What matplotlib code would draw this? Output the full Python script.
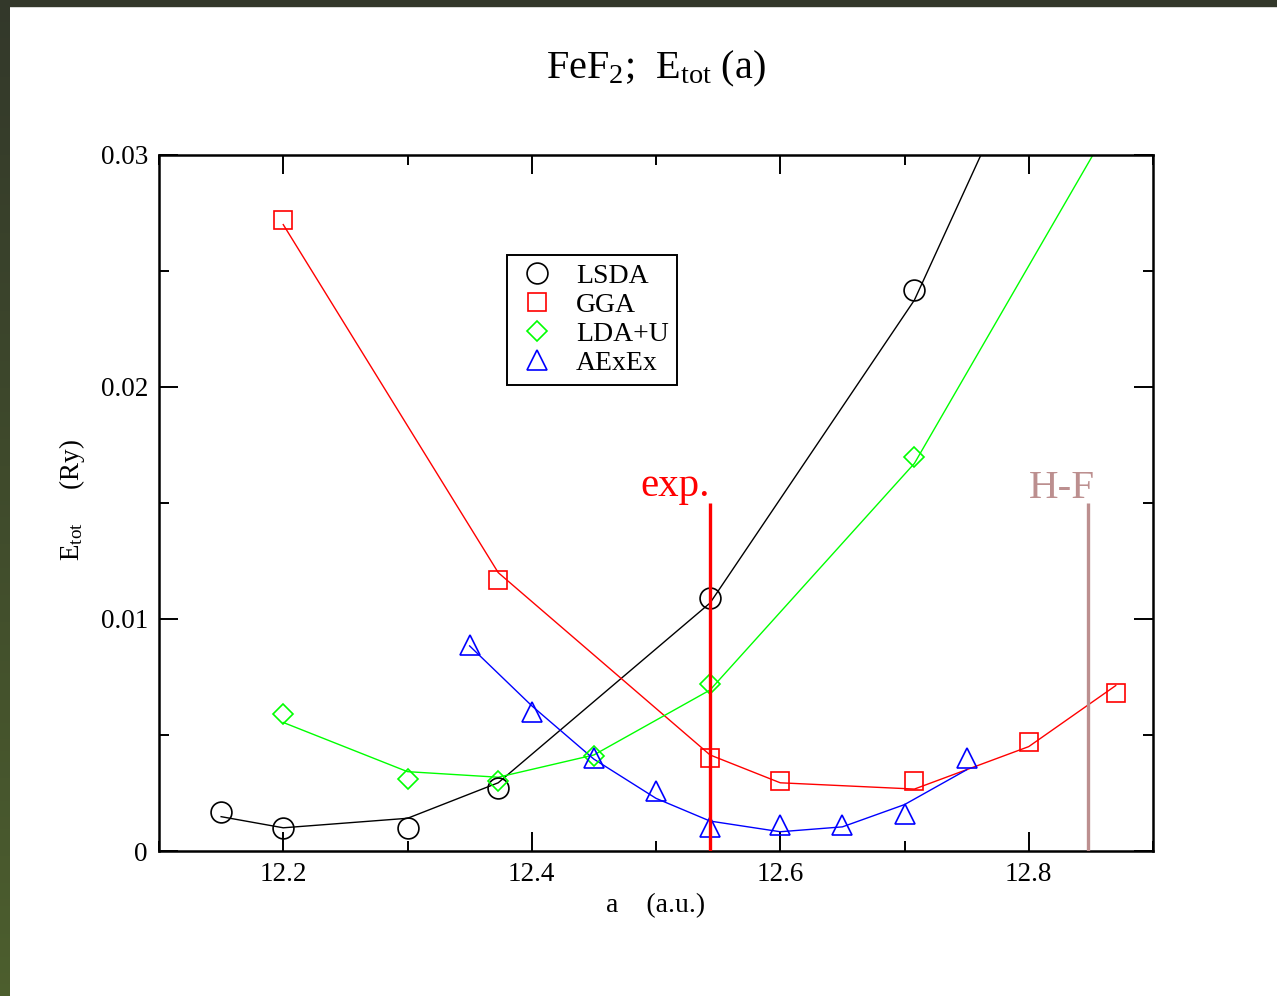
import matplotlib
matplotlib.use("Agg")
import matplotlib.pyplot as plt
import numpy as np

plt.rcParams['font.family'] = ['Liberation Serif', 'DejaVu Serif']
plt.rcParams['mathtext.fontset'] = 'custom'
plt.rcParams['mathtext.rm'] = 'Liberation Serif'
plt.rcParams['mathtext.it'] = 'Liberation Serif:italic'
plt.rcParams['mathtext.default'] = 'rm'

# data points (markers)
lsda_x = [12.15, 12.2, 12.3, 12.373, 12.5435, 12.708]
lsda_y = [0.00168, 0.00099, 0.00100, 0.0027, 0.0109, 0.0242]
gga_x = [12.2, 12.373, 12.5435, 12.6, 12.708, 12.8, 12.87]
gga_y = [0.0272, 0.0117, 0.0040, 0.0030, 0.0030, 0.0047, 0.0068]
ldau_x = [12.2, 12.3, 12.373, 12.45, 12.5435, 12.708]
ldau_y = [0.0059, 0.0031, 0.0030, 0.0041, 0.0072, 0.0170]
aexex_x = [12.35, 12.4, 12.45, 12.5, 12.5435, 12.6, 12.65, 12.7, 12.75]
aexex_y = [0.0089, 0.0060, 0.0040, 0.0026, 0.00105, 0.0011, 0.0011, 0.0016, 0.0040]

# fitted curves (lines)
lsda_fx = [12.15, 12.2, 12.3, 12.373, 12.5435, 12.708, 12.8]
lsda_fy = [0.00148, 0.00100, 0.00141, 0.00294, 0.01069, 0.02375, 0.0345]
gga_fx = [12.2, 12.373, 12.5435, 12.6, 12.708, 12.8, 12.87]
gga_fy = [0.0270, 0.0120, 0.00414, 0.00294, 0.00267, 0.00450, 0.00713]
ldau_fx = [12.2, 12.3, 12.373, 12.45, 12.5435, 12.708, 12.87]
ldau_fy = [0.00554, 0.00342, 0.00318, 0.00414, 0.00694, 0.01671, 0.0317]
aexex_fx = [12.35, 12.4, 12.45, 12.5, 12.5435, 12.6, 12.65, 12.7, 12.75]
aexex_fy = [0.00884, 0.00626, 0.00396, 0.00227, 0.00129, 0.00083, 0.00104, 0.0020, 0.0035]

a_exp = 12.5435
a_hf = 12.8476
mark_height = 0.015

fig = plt.figure(figsize=(12.77, 9.96), dpi=100)

# dark frame strips at the top and left edge
bg = fig.add_axes([0, 0, 1, 1], zorder=-10)
bg.set_axis_off()
grad = np.linspace(0, 1, 256).reshape(-1, 1)
c_top = np.array([0.20, 0.22, 0.165])
c_bot = np.array([0.30, 0.37, 0.18])
img = c_top + (c_bot - c_top) * grad[:, :, None]
bg.imshow(img, extent=[0, 10 / 1277, 0, 1], aspect='auto', transform=bg.transAxes)
bg.add_patch(plt.Rectangle((0, 1 - 6 / 996), 1, 6 / 996, color=c_top, transform=bg.transAxes))
bg.set_xlim(0, 1)
bg.set_ylim(0, 1)

ax = fig.add_axes([159 / 1277, 145 / 996, 994 / 1277, 696 / 996])

lw = 1.0
ms_kw = dict(linestyle='none', markerfacecolor='none', markeredgewidth=1.2)
ax.plot(lsda_fx, lsda_fy, color='black', lw=lw)
ax.plot(gga_fx, gga_fy, color='#ff0000', lw=lw)
ax.plot(ldau_fx, ldau_fy, color='#00ff00', lw=lw)
ax.plot(aexex_fx, aexex_fy, color='#0000ff', lw=lw)
ax.plot(lsda_x, lsda_y, marker='o', markersize=15, color='black', label='LSDA', **ms_kw)
ax.plot(gga_x, gga_y, marker='s', markersize=12.5, color='#ff0000', label='GGA', **ms_kw)
ax.plot(ldau_x, ldau_y, marker='D', markersize=10.5, color='#00ff00', label='LDA+U', **ms_kw)
ax.plot(aexex_x, aexex_y, marker='^', markersize=14, color='#0000ff', label='AExEx', **ms_kw)

ax.vlines(a_exp, 0, mark_height, color='#ff0000', lw=2.4, zorder=5)
ax.vlines(a_hf, 0, mark_height, color='#bc8f8f', lw=2.4, zorder=5)
ax.text(a_exp, 0.0153, 'exp.', color='#ff0000', fontsize=29.5,
        ha='right', va='baseline')
ax.text(a_hf + 0.0056, 0.0152, 'H-F', color='#bc8f8f', fontsize=29.5,
        ha='right', va='baseline')

ax.set_xlim(12.1, 12.9)
ax.set_ylim(0, 0.03)
ax.set_xticks([12.2, 12.4, 12.6, 12.8])
ax.set_xticks([12.1, 12.3, 12.5, 12.7, 12.9], minor=True)
ax.set_yticks([0, 0.01, 0.02, 0.03])
ax.set_yticklabels(['0', '0.01', '0.02', '0.03'])
ax.set_yticks([0.005, 0.015, 0.025], minor=True)
ax.tick_params(which='both', direction='in', top=True, right=True, labelsize=19.5, width=1.4)
ax.tick_params(which='major', length=14, pad=8)
ax.tick_params(which='minor', length=7)
for s in ax.spines.values():
    s.set_linewidth(1.8)

ax.set_xlabel('a    (a.u.)', fontsize=20, labelpad=4)
fig.text(72 / 1277, 1 - 500 / 996, r'E$_{tot}$     (Ry)', fontsize=19.5,
         rotation=90, ha='center', va='center')
fig.text(656 / 1277, 1 - 78 / 996, r'FeF$_2$;  E$_{tot}$ (a)', fontsize=29,
         ha='center', va='baseline')

leg = ax.legend(loc='upper left', bbox_to_anchor=(0.350, 0.856), borderaxespad=0,
                fontsize=20, frameon=True, fancybox=False, edgecolor='black',
                framealpha=1, handlelength=1.56, handletextpad=0.62,
                labelspacing=0.13, borderpad=0.3)
leg.get_frame().set_linewidth(1.4)

fig.savefig('out.png', dpi=100)
